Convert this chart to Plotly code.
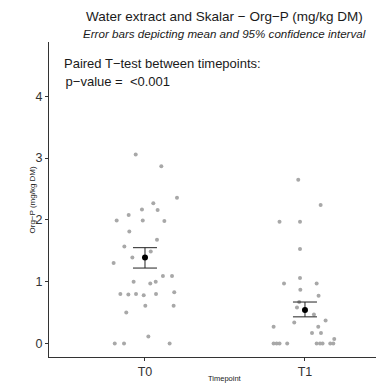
import plotly.graph_objects as go

# ---- data ----
categories = ["T0", "T1"]
cat_pos = [1, 2]

t0_values = [3.06, 2.87, 2.36, 2.27, 2.17, 2.16, 2.08, 1.99, 1.99, 1.98, 1.81, 1.68,
             1.57, 1.49, 1.39, 1.30, 1.09, 1.09, 1.00, 0.97, 1.00, 0.80, 0.79, 0.80,
             0.78, 0.80, 0.83, 0.61, 0.61, 0.50, 0.11, 0.0, 0.0, 0.0]
t0_jitter = [-0.058, 0.102, 0.200, 0.052, -0.019, 0.079, -0.102, -0.177, -0.014, 0.121,
             -0.098, 0.075, -0.129, 0.036, -0.079, -0.196, 0.112, 0.169, -0.071, 0.033,
             0.067, -0.154, -0.104, -0.056, -0.008, 0.069, 0.183, 0.002, 0.179, -0.117,
             0.021, -0.189, -0.131, 0.154]

t1_values = [2.65, 2.24, 1.97, 1.97, 1.53, 1.06, 0.97, 0.97, 0.87, 0.77, 0.67, 0.58,
             0.47, 0.34, 0.37, 0.27, 0.27, 0.17, 0.17, 0.0, 0.0, 0.0, 0.0, 0.0, 0.0,
             0.0, 0.0, 0.0, 0.07]
t1_jitter = [-0.042, 0.098, -0.159, -0.031, -0.031, -0.031, -0.131, 0.073, -0.029, 0.085,
             -0.036, -0.050, 0.056, -0.067, 0.129, -0.196, 0.083, 0.044, 0.100, -0.196,
             -0.177, -0.159, -0.111, 0.073, 0.094, 0.110, 0.158, 0.177, 0.183]

means = [1.39, 0.54]
ci_low = [1.22, 0.43]
ci_high = [1.55, 0.67]

y_ticks = [0, 1, 2, 3, 4]

FONT = "Liberation Sans, Arial, Helvetica, sans-serif"

fig = go.Figure()

for pos, vals, jit in [(cat_pos[0], t0_values, t0_jitter), (cat_pos[1], t1_values, t1_jitter)]:
    fig.add_trace(go.Scatter(
        x=[pos + j for j in jit], y=vals, mode="markers",
        marker=dict(color="#a8a8a8", size=4, line=dict(width=0)),
        showlegend=False, hoverinfo="skip"))

fig.add_trace(go.Scatter(
    x=cat_pos, y=means, mode="markers",
    marker=dict(color="black", size=6),
    error_y=dict(type="data", symmetric=False,
                 array=[h - m for h, m in zip(ci_high, means)],
                 arrayminus=[m - l for m, l in zip(means, ci_low)],
                 color="#222222", thickness=1, width=12),
    showlegend=False, hoverinfo="skip"))

fig.update_layout(
    width=376, height=385,
    margin=dict(l=49, r=0, t=42, b=28),
    paper_bgcolor="white", plot_bgcolor="white",
    font=dict(family=FONT, color="#333333"),
    xaxis=dict(range=[0.4, 2.444], tickvals=cat_pos, ticktext=categories,
               showgrid=False, zeroline=False, showline=True, linecolor="#333333",
               linewidth=1, ticks="outside", ticklen=3, tickcolor="#333333",
               tickfont=dict(size=12.5, color="#333333", family=FONT)),
    yaxis=dict(range=[-0.22, 4.88], tickvals=y_ticks,
               showgrid=False, zeroline=False, showline=True, linecolor="#333333",
               linewidth=1, ticks="outside", ticklen=3, tickcolor="#333333",
               tickfont=dict(size=12.5, color="#333333", family=FONT)),
)

annos = [
    dict(text="Water extract and Skalar − Org−P (mg/kg DM)", x=1.5, xref="x",
         y=(357 - 16) / 315, yref="paper", font=dict(size=13.5, color="#1a1a1a")),
    dict(text="<i>Error bars depicting mean and 95% confidence interval</i>", x=1.5, xref="x",
         y=(357 - 33) / 315, yref="paper", font=dict(size=11.6, color="#1a1a1a")),
    dict(text="Paired T−test between timepoints:", x=(62 - 49) / 327, xref="paper",
         xanchor="left", y=(357 - 63) / 315, yref="paper", font=dict(size=13, color="#1a1a1a")),
    dict(text=" p−value =  <0.001", x=(60 - 49) / 327, xref="paper",
         xanchor="left", y=(357 - 81) / 315, yref="paper", font=dict(size=13, color="#1a1a1a")),
    dict(text="Org−P (mg/kg DM)", x=(32 - 49) / 327, xref="paper", textangle=-90,
         y=0.5, yref="paper", font=dict(size=8, color="#1a1a1a")),
    dict(text="Timepoint", x=1.5, xref="x", y=(357 - 378) / 315, yref="paper",
         font=dict(size=7.5, color="#1a1a1a")),
]
for a in annos:
    a.setdefault("xanchor", "center")
    a.update(showarrow=False, yanchor="middle")
    a["font"]["family"] = FONT
    fig.add_annotation(**a)

fig.write_html("out.html")
